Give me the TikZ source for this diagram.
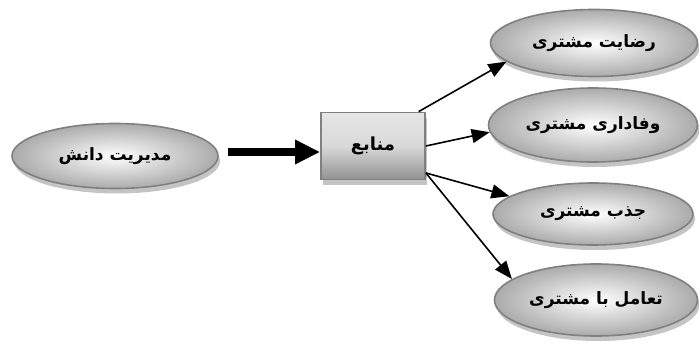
\documentclass[tikz,border=0pt]{standalone}
\usepackage{fontspec}
\newfontfamily\arabicfont[Script=Arabic]{DejaVu Sans}
\TeXXeTstate=1
\usetikzlibrary{arrows.meta, shapes.geometric, shadows}
\definecolor{rimgray}{HTML}{808080}
\definecolor{shadegray}{HTML}{ABABAB}
\definecolor{footgray}{HTML}{C4C4C4}

\begin{document}
\begin{tikzpicture}[
    x=1pt, y=-1pt,
    oval/.style={
      ellipse, draw=rimgray, line width=1.6pt, inner sep=0pt,
      minimum width=207pt, minimum height=66pt,
      inner color=white, outer color=shadegray,
      drop shadow={shadow xshift=2pt, shadow yshift=-5pt, fill=footgray, opacity=1},
      font=\arabicfont\bfseries\fontsize{17}{20}\selectfont
    },
    srcbox/.style={
      rectangle, draw=rimgray, line width=1.8pt, inner sep=0pt,
      minimum width=104pt, minimum height=67pt,
      top color=white!80!gray, bottom color=shadegray!85!black,
      middle color=white!70!gray,
      drop shadow={shadow xshift=2pt, shadow yshift=-5pt, fill=footgray, opacity=1},
      font=\arabicfont\bfseries\fontsize{18}{21}\selectfont
    },
    arr/.style={-{Triangle[length=18pt, width=14pt]}, line width=1.6pt},
    bigarr/.style={-{Triangle[length=25pt, width=23pt]}, line width=8pt},
  ]
    \useasboundingbox (0,0) rectangle (699,345);

    % --- Left side ---
    \node[oval, minimum width=206pt, minimum height=65pt] (km) at (115,156) {\beginR مدیریت دانش\endR};
    \node[srcbox] (res) at (373,146) {\beginR منابع\endR};

    % --- Right side ---
    \node[oval, minimum height=67pt] (sat)  at (594,43)  {\beginR رضایت مشتری\endR};
    \node[oval, minimum width=209pt, minimum height=74pt] (loy)  at (593,125) {\beginR وفاداری مشتری\endR};
    \node[oval, minimum width=200pt, minimum height=62pt] (attr) at (593,214) {\beginR جذب مشتری\endR};
    \node[oval, minimum width=203pt, minimum height=72pt] (inter) at (596,300) {\beginR تعامل با مشتری\endR};

    % --- Arrows ---
    \draw[bigarr] (km.east) ++(9,-4) coordinate (kmout) (kmout) -- (res.west |- kmout);
    \draw[arr] (res.37)  -- (sat.192);
    \draw[arr] (res.east) -- (loy.184);
    \draw[arr] (res.-27) -- (attr.168);
    \draw[arr] (res.-27) -- (inter.166);
\end{tikzpicture}
\end{document}
